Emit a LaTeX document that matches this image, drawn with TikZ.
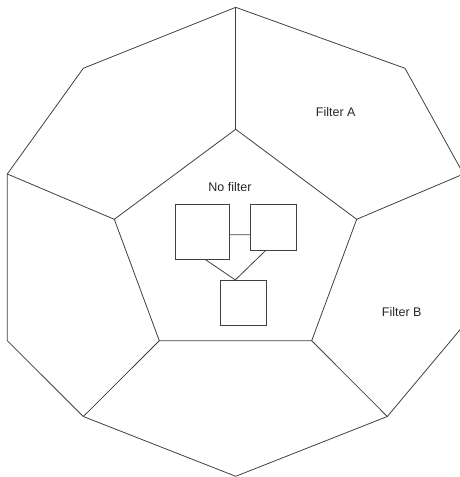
\documentclass[tikz,border=0pt]{standalone}
\usepackage{fontspec}
\setmainfont{Liberation Sans}
\begin{document}
\begin{tikzpicture}[x=1pt,y=-1pt,
  edge/.style={draw=black!75,line width=0.8pt,line join=miter},
  boxnode/.style={draw=black!75,line width=0.8pt,inner sep=0pt,fill=white},
  lbl/.style={font=\fontsize{12.5}{15}\selectfont,text=black!85,inner sep=0pt}]
\useasboundingbox (0,0) rectangle (460,477);
\clip (0,0) rectangle (460,477);
% outer vertices
\coordinate (o1) at (235.7,7.3);
\coordinate (o2) at (405,68.3);
\coordinate (o3) at (463.5,174);
\coordinate (o4) at (464,325);
\coordinate (o5) at (387.3,416.5);
\coordinate (o6) at (235.7,476.3);
\coordinate (o7) at (83.3,416.5);
\coordinate (o8) at (7.3,340.7);
\coordinate (o9) at (7.3,174);
\coordinate (o10) at (83.3,68.3);
% inner vertices
\coordinate (i1) at (235.7,129.3);
\coordinate (i2) at (356.7,219.3);
\coordinate (i3) at (311.7,340.7);
\coordinate (i4) at (159.3,340.7);
\coordinate (i5) at (114.3,219.3);
\draw[edge] (o1)--(o2)--(o3)--(o4)--(o5)--(o6)--(o7)--(o8)--(o9)--(o10)--cycle;
\draw[edge] (i1)--(i2)--(i3)--(i4)--(i5)--cycle;
\draw[edge] (i1)--(o1);
\draw[edge] (i2)--(o3);
\draw[edge] (i3)--(o5);
\draw[edge] (i4)--(o7);
\draw[edge] (i5)--(o9);
% boxes
\node[boxnode,minimum width=54.3pt,minimum height=54.7pt] (b1) at (202.2,231.6) {};
\node[boxnode,minimum width=45.3pt,minimum height=45.7pt] (b2) at (273.3,227.2) {};
\node[boxnode,minimum width=45.7pt,minimum height=45.4pt] (b3) at (243.2,303) {};
\draw[edge] ([yshift=-3.1pt]b1.east) -- ([yshift=-7.5pt]b2.west);
\draw[edge] ([xshift=2.8pt]b1.south) -- ([xshift=-7.9pt]b3.north);
\draw[edge] ([xshift=-7.6pt]b2.south) -- ([xshift=-7.9pt]b3.north);
% labels
\node[lbl] (la) at (335.7,111.7) {Filter A};
\node[lbl] (lb) at (401.7,312.3) {Filter B};
\node[lbl] (ln) at (230,187.3) {No filter};
\end{tikzpicture}
\end{document}
